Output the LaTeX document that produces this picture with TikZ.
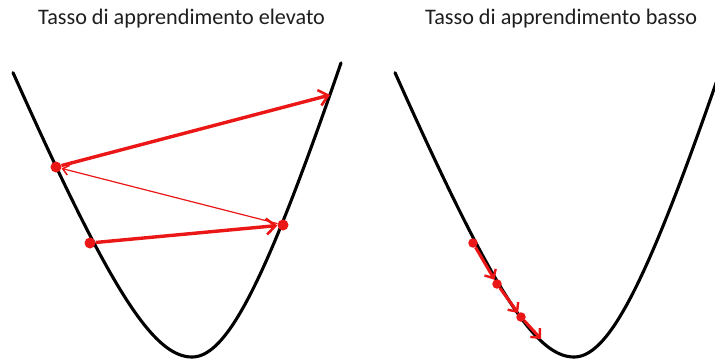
\documentclass[tikz,border=0pt]{standalone}
\usepackage{fontspec}
\setmainfont{Carlito}
\usetikzlibrary{arrows.meta}
\definecolor{gdred}{RGB}{235,22,22}
\definecolor{titlegray}{RGB}{30,30,30}
\tikzset{
  bowl/.style={line width=3.1pt, black, line join=round, line cap=round},
  dotnode/.style={circle, fill=gdred, inner sep=0pt, minimum size=11pt},
  smalldot/.style={circle, fill=gdred, inner sep=0pt, minimum size=9.5pt},
  bigarrow/.style={gdred, line width=3.4pt, -{Straight Barb[length=9pt,width=16pt,line width=2.6pt]}},
  thinarrow/.style={gdred, line width=1.2pt, -{Straight Barb[length=6pt,width=10pt,line width=1.5pt]}},
  steparrow/.style={gdred, line width=3pt, -{Straight Barb[length=7pt,width=13pt,line width=2.4pt]}},
  title/.style={anchor=base west, inner sep=0pt, font=\fontsize{22.2}{26}\selectfont, text=titlegray}
}
\newcommand\bowlpath{%
  plot[domain=-17.9:0, samples=90] ({192+10*\x}, {357-24.5*(sqrt(\x*\x+64)-8)})
  -- plot[domain=0:14.9, samples=80] ({192+10*\x}, {357-33*(sqrt(\x*\x+64)-8)})}
\begin{document}
\begin{tikzpicture}[x=1pt,y=-1pt]
\useasboundingbox (0,0) rectangle (715,361);
\fill[white] (0,0) rectangle (715,361);
% titles
\node[title] (t1) at (38,25) {Tasso di apprendimento elevato};
\node[title] (t2) at (425,25) {Tasso di apprendimento basso};
% left bowl
\draw[bowl] \bowlpath;
% right bowl (same curve shifted, clipped at border)
\begin{scope}
\clip (0,0) rectangle (715,361);
\begin{scope}[xshift=382pt]
\draw[bowl] \bowlpath;
\end{scope}
\end{scope}
% left steps
\node[dotnode] (a1) at (90,243) {};
\node[dotnode] (a2) at (283,225) {};
\node[dotnode] (a3) at (56,167) {};
\coordinate (a4) at (330,95);
\draw[bigarrow] (a1) -- (a2);
\draw[thinarrow] (a2) -- (a3);
\draw[bigarrow] (a3) -- (a4);
% right steps
\node[smalldot] (b1) at (473,243) {};
\node[smalldot] (b2) at (497,284) {};
\node[smalldot] (b3) at (521,317) {};
\coordinate (b4) at (541,339);
\draw[steparrow] (b1) -- (b2);
\draw[steparrow] (b2) -- (b3);
\draw[steparrow] (b3) -- (b4);
\end{tikzpicture}
\end{document}
